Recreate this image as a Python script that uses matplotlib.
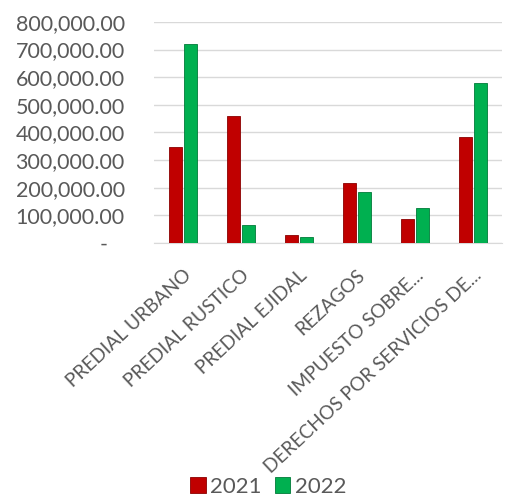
import matplotlib
matplotlib.use("Agg")
import matplotlib.pyplot as plt
import numpy as np

categories = ["PREDIAL URBANO", "PREDIAL RUSTICO", "PREDIAL EJIDAL", "REZAGOS",
              "IMPUESTO SOBRE...", "DERECHOS POR SERVICIOS DE..."]
series_names = ["2021", "2022"]
values_2021 = [348000, 460000, 29000, 217000, 87000, 384000]
values_2022 = [721000, 65000, 22000, 185000, 127000, 580000]
yticks = [0, 100000, 200000, 300000, 400000, 500000, 600000, 700000, 800000]
ytick_labels = ["-   ", "100,000.00", "200,000.00", "300,000.00", "400,000.00",
                "500,000.00", "600,000.00", "700,000.00", "800,000.00"]

plt.rcParams['font.family'] = ['Lato', 'DejaVu Sans']
text_color = "#595959"

fig = plt.figure(figsize=(5.08, 4.98), dpi=100)
ax = fig.add_axes([0.303, 0.512, 0.685, 0.444])

x = np.arange(len(categories))
w = 0.23
off = 0.13
ax.bar(x - off, values_2021, width=w, color="#C00000", edgecolor="#8B0000", linewidth=0.6,
       label=series_names[0], zorder=3)
ax.bar(x + off, values_2022, width=w, color="#00B050", edgecolor="#007A38", linewidth=0.6,
       label=series_names[1], zorder=3)

ax.set_xlim(-0.5, len(categories) - 0.5)
ax.set_ylim(0, 800000)
ax.set_yticks(yticks)
ax.set_yticklabels(ytick_labels, fontsize=15.5, color=text_color)
ax.tick_params(axis='y', length=0, pad=21)
ax.yaxis.grid(True, color="#D9D9D9", linewidth=1.0, zorder=0)
ax.set_axisbelow(True)

ax.set_xticks(x)
ax.set_xticklabels(categories, rotation=43, ha='right', rotation_mode='anchor',
                   fontsize=13.8, color=text_color)
ax.tick_params(axis='x', length=0, pad=17)

for s in ['top', 'right', 'left']:
    ax.spines[s].set_visible(False)
ax.spines['bottom'].set_color("#D9D9D9")

handles, labels = ax.get_legend_handles_labels()
fig.legend(handles, labels, loc='center', bbox_to_anchor=(0.528, 0.022), ncol=2,
           frameon=False, fontsize=16, labelcolor=text_color, handlelength=0.7,
           handleheight=0.7, handletextpad=0.2, columnspacing=0.6)

fig.savefig("out.png", dpi=100)
